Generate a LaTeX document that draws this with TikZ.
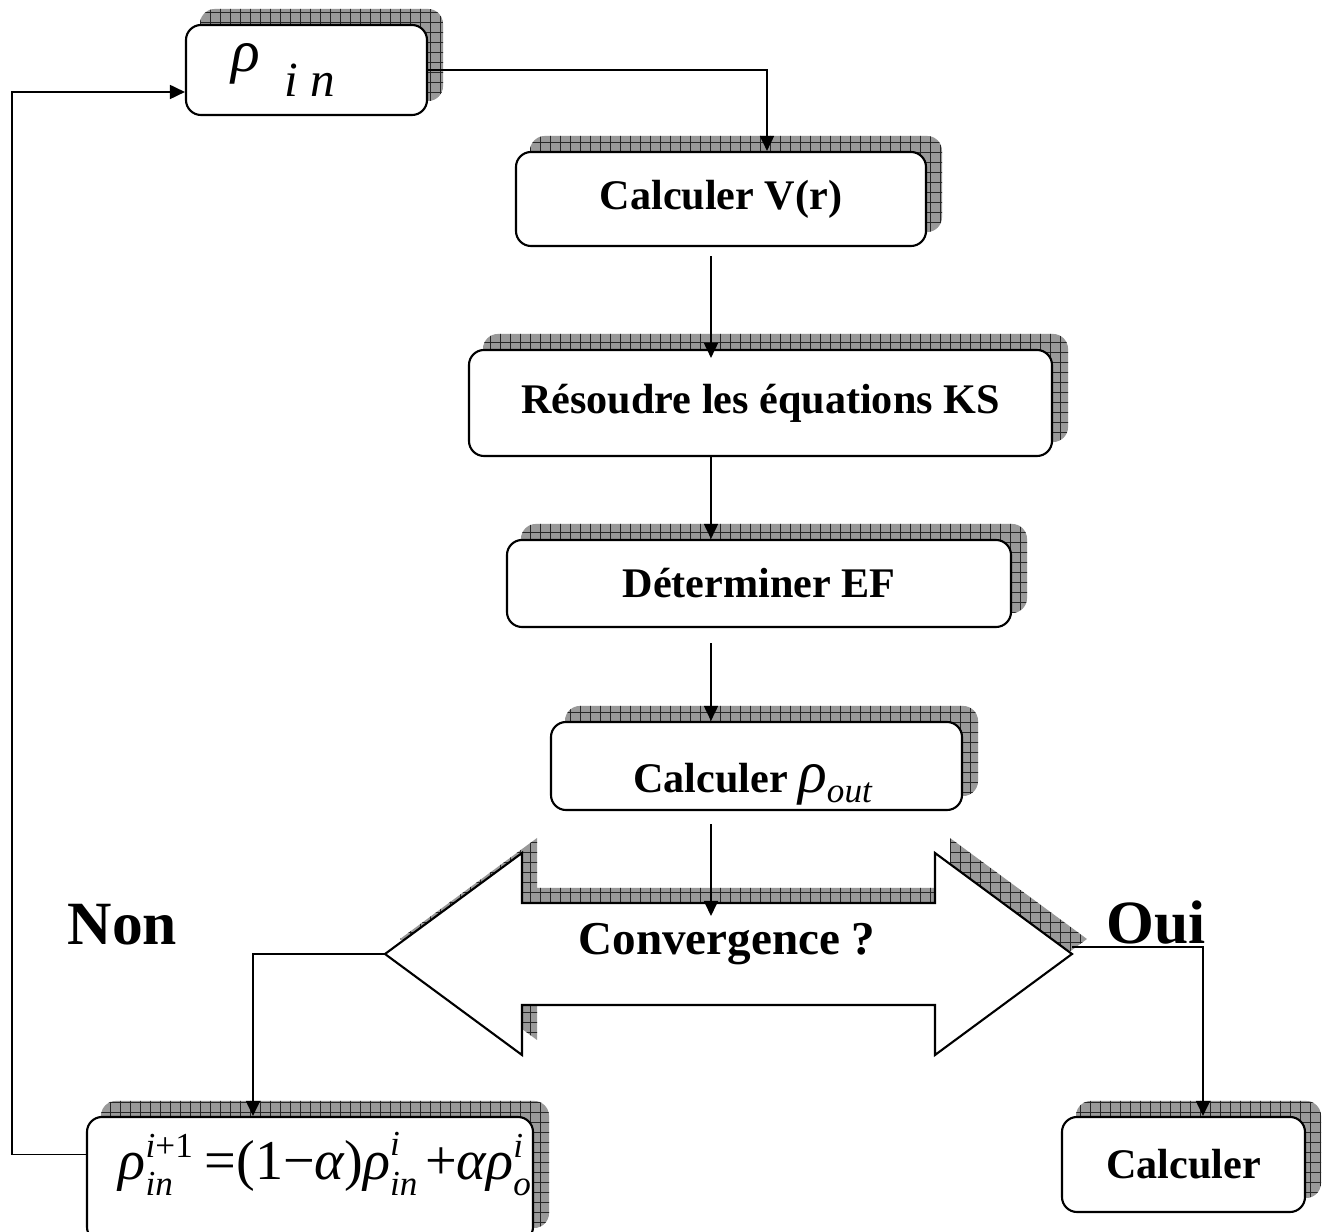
\documentclass[tikz,border=0pt]{standalone}
\usepackage{fontspec}
\setmainfont{Liberation Serif}
\usetikzlibrary{positioning,arrows.meta,patterns.meta,backgrounds}

\newcommand\eqsc[1]{\mbox{\fontsize{10}{10}\selectfont\itshape #1}}
\newcommand\eqrm[1]{\mbox{\fontsize{10}{10}\selectfont #1}}

\tikzset{
  procbox/.style={draw, line width=0.6pt, rounded corners=1.5mm, fill=white,
    inner sep=0pt, font=\fontsize{12}{14}\selectfont\bfseries},
  hatchlines/.style={pattern={Hatch[distance=1mm, line width=0.25pt]}, pattern color=black!85},
  hatchshadow/.style={fill=black!40, postaction={hatchlines}},
  flow/.style={line width=0.5pt, -{Triangle[length=1.5mm, width=1.4mm]}},
  answer/.style={font=\fontsize{17.5}{20}\selectfont\bfseries},
  convarrow/.pic={
    \path[pic actions] (0,0) -- (137,-101) -- (137,-51) -- (550,-51) -- (550,-101)
      -- (687,0) -- (550,101) -- (550,51) -- (137,51) -- (137,101) -- cycle;
    \coordinate (-west) at (0,0);
    \coordinate (-east) at (687,0);
    \coordinate (-top) at (343.5,-51);
  }
}

\begin{document}
\begin{tikzpicture}[x=0.1mm, y=-0.1mm]
  \clip (0,0) rectangle (1331,1232);

  % boxes
  \node[procbox, minimum width=24.1mm, minimum height=9mm] (rin) at (306.5,70)
    {{\fontsize{17}{19}\selectfont\mdseries\itshape ρ\ \,\raisebox{-0.9ex}{\fontsize{14}{16}\selectfont i n}}\hspace{4.6mm}\null};
  \node[procbox, minimum width=41mm, minimum height=9.4mm] (vr) at (721,199) {Calculer V(r)};
  \node[procbox, minimum width=58.3mm, minimum height=10.6mm] (ks) at (760.5,403) {Résoudre les équations KS};
  \node[procbox, minimum width=50.4mm, minimum height=8.7mm] (ef) at (759,583.5) {Déterminer EF};
  \node[procbox, minimum width=41.1mm, minimum height=8.8mm, text height=5.4mm, text depth=0pt] (rout) at (756.5,766)
    {Calculer {\fontsize{17}{19}\selectfont\mdseries\itshape ρ}\raisebox{-0.5ex}{\fontsize{10}{11}\selectfont\mdseries\itshape out}\hspace{0.8mm}\null};
  \node[procbox, minimum width=44.6mm, minimum height=12.5mm] (mix) at (310,1179.5) {};
  \node[procbox, minimum width=24.3mm, minimum height=9.5mm] (calc) at (1183.5,1164.5) {Calculer};

  \begin{scope}
    \clip (mix.south west) rectangle ([xshift=-0.3pt]mix.north east);
    \node[anchor=base west, inner sep=0pt, font=\fontsize{16}{19}\selectfont] (mixeq) at (118,1180)
      {$\mbox{\itshape ρ}^{\eqsc{i}\eqrm{+1}}_{\eqsc{in}}\hspace{1mm}\mbox{=(1−\itshape α\upshape)\itshape ρ}^{\eqsc{i}}_{\eqsc{in}}\hspace{0.6mm}\mbox{+\itshape αρ}^{\eqsc{i}}_{\eqsc{out}}$};
  \end{scope}

  % shadows
  \begin{scope}[on background layer]
    \foreach \b in {rin,vr,ks,ef,rout,mix,calc}
      \path[hatchshadow, rounded corners=1.5mm]
        ([shift={(1.5mm,1.5mm)}]\b.south west) rectangle ([shift={(1.5mm,1.5mm)}]\b.north east);
  \end{scope}

  % test de convergence
  \pic[fill=black!40] at (400,939) {convarrow};
  \pic[hatchlines] at (400,939) {convarrow};
  \pic[draw, line width=0.6pt, fill=white] (conv) at (385,954) {convarrow};
  \node[anchor=base, font=\fontsize{13.4}{16}\selectfont\bfseries] (convtext) at (727,955) {Convergence ?};

  \node[answer, anchor=base] (non) at (122.5,945) {Non};
  \node[answer, anchor=base] (oui) at (1156.5,944) {Oui};

  \coordinate (routtop) at ([yshift=1.5mm]rout.north);

  % connecteurs
  \draw[flow] (rin.east) -| ([xshift=4.6mm]vr.north);
  \draw[flow] ([xshift=-1mm,yshift=-0.9mm]vr.south) -- ([xshift=-1mm,yshift=-0.9mm]vr.south |- ks.north);
  \draw[flow] ([xshift=-4.95mm]ks.south) -- ([xshift=-4.95mm]ks.south |- ef.north);
  \draw[flow] ([xshift=-4.8mm,yshift=-1.5mm]ef.south) -- ([xshift=-4.8mm,yshift=-1.5mm]ef.south |- routtop);
  \draw[flow] ([xshift=-4.55mm,yshift=-1.3mm]rout.south) -- ([xshift=-4.55mm,yshift=-1.3mm]rout.south |- conv-top);
  \draw[flow] (conv-west) -| ([xshift=-5.7mm]mix.north);
  \draw[flow] ([yshift=0.7mm]conv-east) -| ([xshift=1.95mm]calc.north);
  \draw[flow] ([yshift=2.5mm]mix.west) -- ++(-7.4mm,0) |- ([yshift=-2.2mm]rin.west);
\end{tikzpicture}
\end{document}
